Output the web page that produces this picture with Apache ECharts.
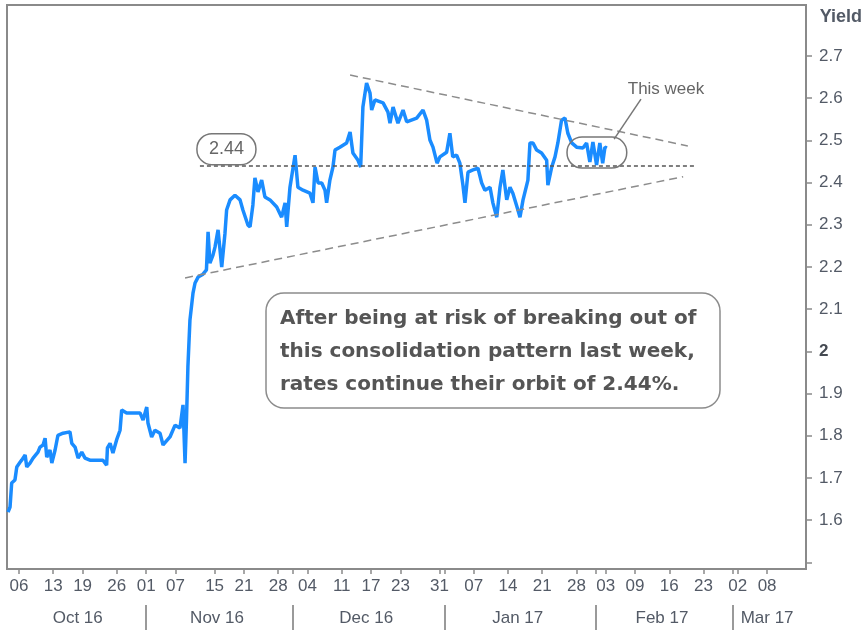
<!DOCTYPE html>
<html>
<head>
    <meta charset="UTF-8">
    <script src="https://cdn.jsdelivr.net/npm/echarts@6/dist/echarts.min.js"></script>
    <style>
        html, body { margin: 0; padding: 0; background: #fff; }
        #main { width: 864px; height: 630px; }
    </style>
</head>
<body>
<div id="main"></div>
<script type="text/javascript">
    // 10y yield
    var times = [
        '2016-10-03 18:00', '2016-10-04 04:00', '2016-10-04 12:00', '2016-10-05 04:00', '2016-10-05 13:00',
        '2016-10-06 05:00', '2016-10-06 13:00', '2016-10-07 06:00', '2016-10-07 14:00', '2016-10-08 06:00',
        '2016-10-08 21:00', '2016-10-09 21:00', '2016-10-10 07:00', '2016-10-10 22:00', '2016-10-11 08:00',
        '2016-10-11 16:00', '2016-10-12 08:00', '2016-10-12 17:00', '2016-10-13 09:00', '2016-10-13 23:00',
        '2016-10-15 00:00', '2016-10-16 10:00', '2016-10-16 19:00', '2016-10-17 11:00', '2016-10-18 02:00',
        '2016-10-18 20:00', '2016-10-19 12:00', '2016-10-20 12:00', '2016-10-23 04:00', '2016-10-23 22:00',
        '2016-10-24 02:00', '2016-10-24 15:00', '2016-10-25 05:00', '2016-10-25 23:00', '2016-10-26 16:00',
        '2016-10-27 00:00', '2016-10-28 00:00', '2016-10-30 18:00', '2016-10-31 09:00', '2016-11-01 03:00',
        '2016-11-01 09:00', '2016-11-02 03:00', '2016-11-02 19:00', '2016-11-03 20:00', '2016-11-04 11:00',
        '2016-11-05 21:00', '2016-11-06 22:00', '2016-11-07 22:00', '2016-11-08 13:00', '2016-11-08 23:00',
        '2016-11-09 06:00', '2016-11-09 13:00', '2016-11-09 23:00', '2016-11-10 14:00', '2016-11-11 00:00',
        '2016-11-11 15:00', '2016-11-12 15:00', '2016-11-13 08:00', '2016-11-13 16:00', '2016-11-14 01:00',
        '2016-11-14 16:00', '2016-11-15 02:00', '2016-11-15 17:00', '2016-11-16 11:00', '2016-11-17 03:00',
        '2016-11-17 11:00', '2016-11-18 04:00', '2016-11-19 04:00', '2016-11-20 05:00', '2016-11-20 19:00',
        '2016-11-21 20:00', '2016-11-22 06:00', '2016-11-22 20:00', '2016-11-23 06:00', '2016-11-23 21:00',
        '2016-11-24 15:00', '2016-11-25 07:00', '2016-11-26 08:00', '2016-11-27 17:00', '2016-11-28 17:00',
        '2016-11-29 10:00', '2016-11-29 18:00', '2016-11-30 10:00', '2016-12-01 11:00', '2016-12-02 01:00',
        '2016-12-03 02:00', '2016-12-04 12:00', '2016-12-05 03:00', '2016-12-05 13:00', '2016-12-06 04:00',
        '2016-12-06 22:00', '2016-12-07 14:00', '2016-12-07 22:00', '2016-12-08 14:00', '2016-12-09 05:00',
        '2016-12-09 15:00', '2016-12-10 15:00', '2016-12-12 00:00', '2016-12-12 17:00', '2016-12-13 07:00',
        '2016-12-14 08:00', '2016-12-14 21:00', '2016-12-15 08:00', '2016-12-16 02:00', '2016-12-16 19:00',
        '2016-12-17 03:00', '2016-12-17 19:00', '2016-12-19 11:00', '2016-12-20 11:00', '2016-12-20 21:00',
        '2016-12-21 12:00', '2016-12-22 12:00', '2016-12-23 13:00', '2016-12-24 07:00', '2016-12-26 08:00',
        '2016-12-27 15:00', '2016-12-28 09:00', '2016-12-29 01:00', '2016-12-29 16:00', '2016-12-30 12:00',
        '2016-12-31 02:00', '2017-01-01 11:00', '2017-01-02 03:00', '2017-01-02 17:00', '2017-01-03 12:00',
        '2017-01-04 04:00', '2017-01-04 19:00', '2017-01-05 05:00', '2017-01-05 20:00', '2017-01-06 20:00',
        '2017-01-07 21:00', '2017-01-08 15:00', '2017-01-09 07:00', '2017-01-10 08:00', '2017-01-10 22:00',
        '2017-01-11 17:00', '2017-01-12 09:00', '2017-01-12 23:00', '2017-01-13 18:00', '2017-01-14 10:00',
        '2017-01-15 00:00', '2017-01-16 01:00', '2017-01-16 11:00', '2017-01-17 02:00', '2017-01-18 02:00',
        '2017-01-18 12:00', '2017-01-19 03:00', '2017-01-19 21:00', '2017-01-20 21:00', '2017-01-21 22:00',
        '2017-01-22 04:00', '2017-01-22 23:00', '2017-01-23 15:00', '2017-01-24 05:00', '2017-01-24 23:00',
        '2017-01-25 16:00', '2017-01-26 06:00', '2017-01-27 01:00', '2017-01-28 01:00', '2017-01-29 08:00',
        '2017-01-30 02:00', '2017-01-30 18:00', '2017-01-31 09:00', '2017-02-01 03:00', '2017-02-01 19:00',
        '2017-02-02 09:00', '2017-02-02 20:00', '2017-02-03 06:00'
    ];
    var yields = [
        1.619, 1.631, 1.688, 1.695, 1.726,
        1.737, 1.742, 1.754, 1.726, 1.735,
        1.747, 1.761, 1.773, 1.778, 1.794,
        1.749, 1.766, 1.735, 1.766, 1.801,
        1.806, 1.809, 1.782, 1.773, 1.747,
        1.761, 1.747, 1.742, 1.742, 1.730,
        1.771, 1.782, 1.759, 1.790, 1.813,
        1.861, 1.854, 1.854, 1.837, 1.868,
        1.830, 1.797, 1.813, 1.806, 1.778,
        1.797, 1.825, 1.818, 1.873, 1.735,
        1.837, 1.963, 2.074, 2.138, 2.162,
        2.176, 2.183, 2.193, 2.283, 2.209,
        2.228, 2.247, 2.288, 2.200, 2.280,
        2.335, 2.359, 2.370, 2.359, 2.335,
        2.299, 2.295, 2.347, 2.411, 2.378,
        2.406, 2.366, 2.359, 2.342, 2.318,
        2.352, 2.295, 2.389, 2.465, 2.389,
        2.382, 2.375, 2.352, 2.437, 2.399,
        2.399, 2.382, 2.352, 2.406, 2.437,
        2.477, 2.484, 2.494, 2.520, 2.470,
        2.453, 2.437, 2.579, 2.636, 2.612,
        2.572, 2.596, 2.589, 2.567, 2.541,
        2.579, 2.541, 2.572, 2.544, 2.553,
        2.572, 2.548, 2.501, 2.484, 2.446,
        2.461, 2.472, 2.517, 2.461, 2.465,
        2.446, 2.394, 2.352, 2.425, 2.430,
        2.434, 2.399, 2.382, 2.389, 2.352,
        2.318, 2.389, 2.430, 2.359, 2.389,
        2.375, 2.335, 2.318, 2.359, 2.406,
        2.494, 2.494, 2.477, 2.470, 2.453,
        2.394, 2.437, 2.461, 2.494, 2.548,
        2.553, 2.517, 2.494, 2.484, 2.482,
        2.494, 2.449, 2.496, 2.442, 2.494,
        2.446, 2.484, 2.482
    ];

    var dayTicks = ['2016-10-06', '2016-10-13', '2016-10-19', '2016-10-26', '2016-11-01', '2016-11-07',
        '2016-11-15', '2016-11-21', '2016-11-28', '2016-12-04', '2016-12-11', '2016-12-17', '2016-12-23',
        '2016-12-31', '2017-01-07', '2017-01-14', '2017-01-21', '2017-01-28', '2017-02-03', '2017-02-09',
        '2017-02-16', '2017-02-23', '2017-03-02', '2017-03-08'];
    var monthStarts = ['2016-11-01', '2016-12-01', '2017-01-01', '2017-02-01', '2017-03-01'];
    var monthLabels = ['Oct 16', 'Nov 16', 'Dec 16', 'Jan 17', 'Feb 17', 'Mar 17'];
    var monthCentres = ['2016-10-18', '2016-11-15 12:00', '2016-12-16', '2017-01-16', '2017-02-14 12:00', '2017-03-08'];
    var yTicks = [1.5, 1.6, 1.7, 1.8, 1.9, 2.0, 2.1, 2.2, 2.3, 2.4, 2.5, 2.6, 2.7];
    var yLabels = [1.6, 1.7, 1.8, 1.9, 2.0, 2.1, 2.2, 2.3, 2.4, 2.5, 2.6, 2.7];

    var level = 2.44;
    var levelSpan = ['2016-11-12 00:00', '2017-02-21 05:00'];
    var upperTrend = [['2016-12-12 17:00', 2.655], ['2017-02-19 19:00', 2.487]];
    var lowerTrend = [['2016-11-08 23:00', 2.174], ['2017-02-18 20:00', 2.414]];
    var thisWeekBox = [['2017-01-26 02:00', 2.508], ['2017-02-07 07:00', 2.4345]];
    var thisWeekPointer = [['2017-02-04 17:00', 2.503], ['2017-02-10 05:00', 2.598]];
    var thisWeekText = ['2017-02-07 12:00', 2.622];
    var note = 'After being at risk of breaking out of\nthis consolidation pattern last week,\nrates continue their orbit of 2.44%.';

    function t(s) {
        var p = s.split(/[- :]/);
        return new Date(+p[0], p[1] - 1, +p[2], +(p[3] || 0), +(p[4] || 0)).getTime();
    }

    var xMin = t('2016-10-03 13:00');
    var xMax = t('2017-03-15 23:00');
    var font = '"Liberation Sans", Arial, sans-serif';
    var labelColor = '#535a66';

    var lineData = [];
    for (var i = 0; i < times.length; i++) {
        lineData.push([t(times[i]), yields[i]]);
    }

    var dayTickValues = dayTicks.map(t);
    var monthStartValues = monthStarts.map(t);

    function pad(n) {
        return (n < 10 ? '0' : '') + n;
    }

    var myChart = echarts.init(document.getElementById('main'));
    var option = {
        animation: false,
        grid: {
            left: 7, right: 58, top: 5, bottom: 61,
            show: true, borderColor: '#8a8a8a', borderWidth: 2, backgroundColor: '#fff'
        },
        xAxis: [
            {
                type: 'value', min: xMin, max: xMax, scale: true,
                axisLine: {show: false},
                splitLine: {show: false},
                axisTick: {
                    show: true, length: 5, inside: false,
                    customValues: dayTickValues.concat(monthStartValues),
                    lineStyle: {color: '#8a8a8a', width: 1.5}
                },
                axisLabel: {
                    customValues: dayTickValues,
                    margin: 9, fontFamily: font, fontSize: 17, color: labelColor,
                    formatter: function (v) {
                        return pad(new Date(v).getDate());
                    }
                }
            },
            {
                type: 'value', min: xMin, max: xMax, scale: true, position: 'bottom', offset: 36,
                axisLine: {show: false},
                splitLine: {show: false},
                axisTick: {
                    show: true, length: 26, inside: false,
                    customValues: monthStartValues,
                    lineStyle: {color: '#7a7a7a', width: 1.5}
                },
                axisLabel: {
                    customValues: monthCentres.map(t),
                    margin: 5, fontFamily: font, fontSize: 17, color: labelColor,
                    formatter: function (v) {
                        var d = new Date(v);
                        var idx = (d.getFullYear() - 2016) * 12 + d.getMonth() - 9;
                        return monthLabels[idx];
                    }
                }
            }
        ],
        yAxis: {
            type: 'value', position: 'right', min: 1.484, max: 2.821,
            axisLine: {show: false},
            splitLine: {show: false},
            axisTick: {
                show: true, length: 6, customValues: yTicks,
                lineStyle: {color: '#8a8a8a', width: 1.5}
            },
            axisLabel: {
                customValues: yLabels,
                margin: 13, fontFamily: font, fontSize: 17, color: labelColor,
                formatter: function (v) {
                    return Math.abs(v - 2) < 1e-9 ? '{b|2}' : String(+v.toFixed(1));
                },
                rich: {b: {fontFamily: font, fontSize: 17, fontWeight: 'bold', color: '#454a52'}}
            }
        },
        series: [
            {
                type: 'line',
                data: lineData,
                showSymbol: false,
                lineStyle: {color: '#1a8cff', width: 3.5},
                z: 3,
                markLine: {
                    silent: true,
                    symbol: 'none',
                    label: {show: false},
                    data: [
                        [{coord: [t(levelSpan[0]), level], lineStyle: {color: '#555', type: [4, 3], width: 1.5}},
                            {coord: [t(levelSpan[1]), level]}],
                        [{coord: [t(upperTrend[0][0]), upperTrend[0][1]], lineStyle: {color: '#8c8c8c', type: [8, 5], width: 1.5}},
                            {coord: [t(upperTrend[1][0]), upperTrend[1][1]]}],
                        [{coord: [t(lowerTrend[0][0]), lowerTrend[0][1]], lineStyle: {color: '#8c8c8c', type: [8, 5], width: 1.5}},
                            {coord: [t(lowerTrend[1][0]), lowerTrend[1][1]]}]
                    ]
                }
            }
        ]
    };
    myChart.setOption(option);

    function px(d, v) {
        return myChart.convertToPixel({xAxisIndex: 0, yAxisIndex: 0}, [t(d), v]);
    }

    var lvl = px(levelSpan[0], level);
    var b1 = px(thisWeekBox[0][0], thisWeekBox[0][1]);
    var b2 = px(thisWeekBox[1][0], thisWeekBox[1][1]);
    var q1 = px(thisWeekPointer[0][0], thisWeekPointer[0][1]);
    var q2 = px(thisWeekPointer[1][0], thisWeekPointer[1][1]);
    var tw = px(thisWeekText[0], thisWeekText[1]);

    myChart.setOption({
        graphic: [
            {
                type: 'text', right: 2, top: 8,
                style: {text: 'Yield', font: 'bold 18px ' + font, fill: labelColor}
            },
            {
                type: 'rect', z: 10,
                shape: {x: lvl[0] - 3, y: lvl[1] - 32, width: 59, height: 31, r: 15},
                style: {fill: '#fff', stroke: '#777', lineWidth: 1.5}
            },
            {
                type: 'text', z: 11, x: lvl[0] + 26.5, y: lvl[1] - 16.5,
                style: {text: '2.44', font: '18px ' + font, fill: '#666', align: 'center', verticalAlign: 'middle'}
            },
            {
                type: 'rect', z: 10,
                shape: {x: b1[0], y: b1[1], width: b2[0] - b1[0], height: b2[1] - b1[1], r: 15},
                style: {fill: 'none', stroke: '#777', lineWidth: 1.5}
            },
            {
                type: 'line', z: 10,
                shape: {x1: q1[0], y1: q1[1], x2: q2[0], y2: q2[1]},
                style: {stroke: '#777', lineWidth: 1.5}
            },
            {
                type: 'text', z: 11, x: tw[0], y: tw[1],
                style: {text: 'This week', font: '17px ' + font, fill: '#666', verticalAlign: 'middle'}
            },
            {
                type: 'rect', z: 10,
                shape: {x: 266, y: 293, width: 454, height: 115, r: 18},
                style: {fill: '#fff', stroke: '#8c8c8c', lineWidth: 1.5}
            },
            {
                type: 'text', z: 11, x: 280, y: 302,
                style: {text: note, font: 'bold 20px "DejaVu Sans", sans-serif', fill: '#555', lineHeight: 33}
            }
        ]
    });
</script>
</body>
</html>
